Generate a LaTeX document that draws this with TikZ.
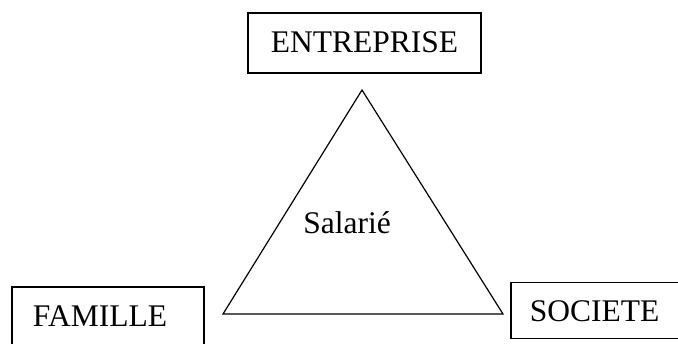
\documentclass[tikz,border=0pt]{standalone}
\usepackage{fontspec}
\setmainfont{Liberation Serif}
\begin{document}
\begin{tikzpicture}[x=1pt,y=-1pt,
  box/.style={draw, line width=1.3pt, inner sep=0pt},
  lbl/.style={font=\fontsize{31.5}{36}\selectfont, inner sep=0pt, anchor=base},
  tri/.style={draw, line width=1.2pt, line join=miter}]
\clip (0,0) rectangle (678,344);
% boxes
\node[box, minimum width=233pt, minimum height=60pt] (entreprisebox) at (364.5,43) {};
\node[box, minimum width=192pt, minimum height=70pt] (famillebox) at (108,322) {};
\node[box, minimum width=180pt, minimum height=56pt] (societebox) at (601,310.5) {};
% labels
\node[lbl] (entreprise) at (364.5,53) {ENTREPRISE};
\node[lbl] (famille) at (100,326.7) {FAMILLE};
\node[lbl] (societe) at (594.5,321.7) {SOCIETE};
\node[lbl] (salarie) at (347,233.3) {Salarié};
% triangle
\coordinate (apex) at (362,90);
\coordinate (bl) at (223,314);
\coordinate (br) at (503,314);
\draw[tri] (apex) -- (bl) -- (br) -- cycle;
\end{tikzpicture}
\end{document}
